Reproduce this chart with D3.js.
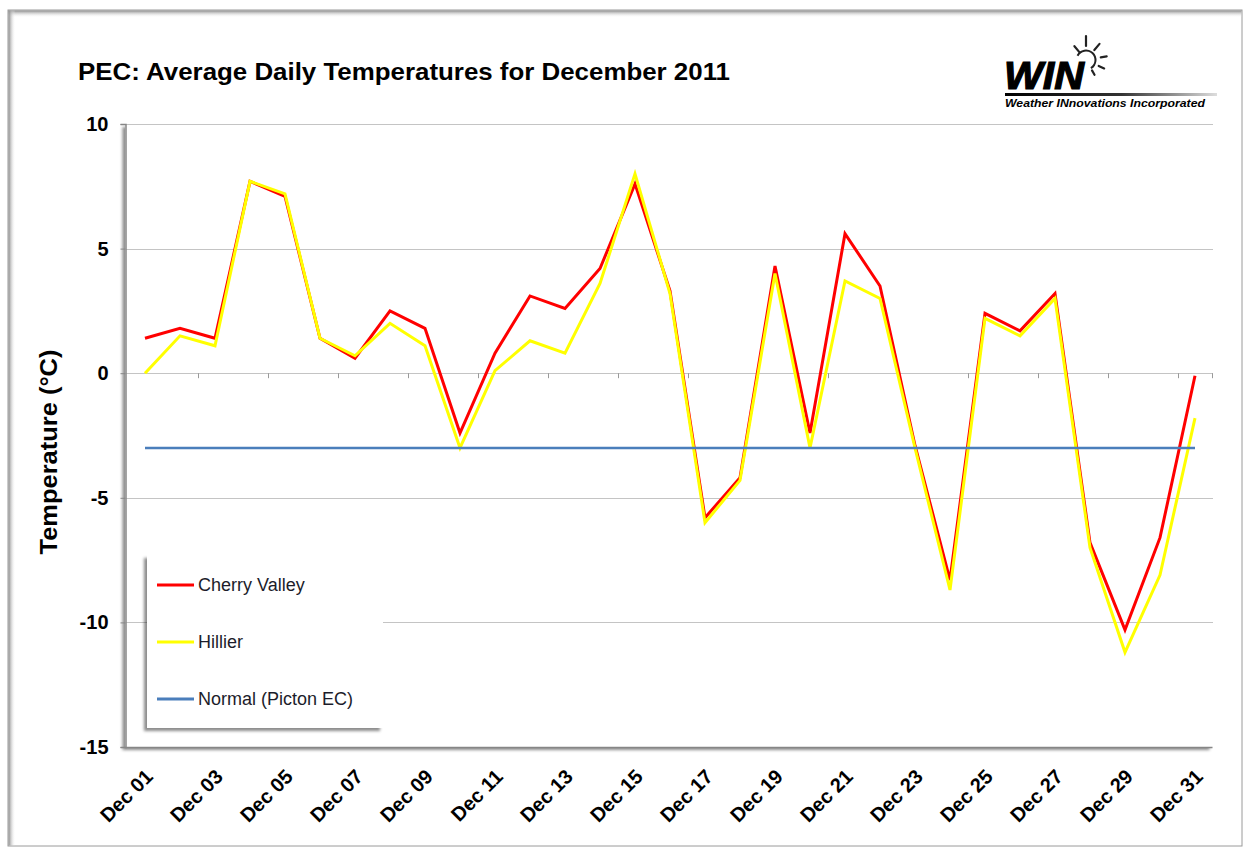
<!DOCTYPE html>
<html lang="en">
<head>
    <meta charset="UTF-8">
    <title>PEC December 2011</title>
    <script type="text/javascript" src="https://cdn.jsdelivr.net/npm/d3@7"></script>
    <style>
        body{
            margin: 0;
            background: #fff;
        }
        svg text{
            font-family: "Liberation Sans", Arial, sans-serif;
            fill: #000;
        }
        .grid line{
            stroke: #c4c4c4;
            shape-rendering: crispEdges;
        }
        .xlab{
            font-size: 20px;
            font-weight: bold;
        }
        .ylab{
            font-size: 20px;
            font-weight: bold;
        }
        .series{
            fill: none;
            stroke-linejoin: miter;
        }
        .leg text{
            font-size: 18px;
            fill: #1c1c2a;
        }
    </style>
</head>
<body>
<div id="chart"></div>
<script type="text/javascript">
    var days = ["Dec 01","Dec 02","Dec 03","Dec 04","Dec 05","Dec 06","Dec 07","Dec 08","Dec 09","Dec 10",
        "Dec 11","Dec 12","Dec 13","Dec 14","Dec 15","Dec 16","Dec 17","Dec 18","Dec 19","Dec 20",
        "Dec 21","Dec 22","Dec 23","Dec 24","Dec 25","Dec 26","Dec 27","Dec 28","Dec 29","Dec 30","Dec 31"];
    var cherryValley = [1.4,1.8,1.4,7.7,7.1,1.4,0.6,2.5,1.8,-2.4,
        0.8,3.1,2.6,4.2,7.6,3.3,-5.8,-4.2,4.3,-2.4,
        5.6,3.5,-2.9,-8.3,2.4,1.7,3.2,-6.8,-10.3,-6.6,-0.1];
    var hillier = [0.0,1.5,1.1,7.7,7.2,1.4,0.7,2.0,1.1,-3.0,
        0.1,1.3,0.8,3.6,8.0,3.2,-6.0,-4.3,4.0,-3.0,
        3.7,3.0,-3.0,-8.7,2.2,1.5,3.0,-7.0,-11.2,-8.1,-1.8];
    var normal = [-3,-3,-3,-3,-3,-3,-3,-3,-3,-3,
        -3,-3,-3,-3,-3,-3,-3,-3,-3,-3,
        -3,-3,-3,-3,-3,-3,-3,-3,-3,-3,-3];
    var yTicks = [10,5,0,-5,-10,-15];
    var xLabels = ["Dec 01","Dec 03","Dec 05","Dec 07","Dec 09","Dec 11","Dec 13","Dec 15",
        "Dec 17","Dec 19","Dec 21","Dec 23","Dec 25","Dec 27","Dec 29","Dec 31"];
    var seriesNames = ["Cherry Valley","Hillier","Normal (Picton EC)"];
    var seriesColors = ["#ff0000","#ffff00","#4a7ebb"];

    var W = 1248, H = 848;
    var pLeft = 127.5, pRight = 1212.5, pTop = 124, pBottom = 747;

    var svg = d3.select("#chart").append("svg")
        .attr("width", W).attr("height", H);

    var defs = svg.append("defs");
    var sh = defs.append("filter").attr("id","shadow")
        .attr("x","-5%").attr("y","-5%").attr("width","110%").attr("height","110%");
    sh.append("feDropShadow").attr("dx",-3).attr("dy",3).attr("stdDeviation",1.6)
        .attr("flood-color","#000").attr("flood-opacity",0.45);

    var gTop = defs.append("linearGradient").attr("id","gTop").attr("x1",0).attr("y1",0).attr("x2",0).attr("y2",1);
    gTop.append("stop").attr("offset","0").attr("stop-color","#8a8a8a");
    gTop.append("stop").attr("offset","1").attr("stop-color","#fff").attr("stop-opacity",0);
    var gLeft = defs.append("linearGradient").attr("id","gLeft").attr("x1",0).attr("y1",0).attr("x2",1).attr("y2",0);
    gLeft.append("stop").attr("offset","0").attr("stop-color","#8a8a8a");
    gLeft.append("stop").attr("offset","1").attr("stop-color","#fff").attr("stop-opacity",0);
    var gRule = defs.append("linearGradient").attr("id","gRule").attr("x1",0).attr("y1",0).attr("x2",1).attr("y2",0);
    gRule.append("stop").attr("offset","0").attr("stop-color","#000");
    gRule.append("stop").attr("offset","0.55").attr("stop-color","#333");
    gRule.append("stop").attr("offset","1").attr("stop-color","#ddd");

    // outer frame
    svg.append("rect").attr("x",8).attr("y",10).attr("width",1234).attr("height",836)
        .attr("fill","#fff").attr("stroke","#9a9a9a").attr("stroke-width",1);
    svg.append("rect").attr("x",8.5).attr("y",10.5).attr("width",1233).attr("height",7).attr("fill","url(#gTop)");
    svg.append("rect").attr("x",8.5).attr("y",10.5).attr("width",7).attr("height",835).attr("fill","url(#gLeft)");

    // title
    svg.append("text").attr("x",78).attr("y",80)
        .attr("textLength",652).attr("lengthAdjust","spacingAndGlyphs")
        .style("font-size","24px").style("font-weight","bold")
        .text("PEC: Average Daily Temperatures for December 2011");

    // logo
    var logo = svg.append("g").attr("class","logo");
    logo.append("text").attr("x",1004).attr("y",89)
        .attr("textLength",80).attr("lengthAdjust","spacingAndGlyphs")
        .style("font-size","38px").style("font-weight","900").style("font-style","italic")
        .style("stroke","#000").style("stroke-width",1.2)
        .text("WIN");
    logo.append("rect").attr("x",1005).attr("y",93).attr("width",212).attr("height",3).attr("fill","url(#gRule)");
    logo.append("text").attr("x",1005).attr("y",107)
        .attr("textLength",200).attr("lengthAdjust","spacingAndGlyphs")
        .style("font-size","11px").style("font-weight","bold").style("font-style","italic")
        .text("Weather INnovations Incorporated");
    var sun = logo.append("g").attr("transform","translate(1086,60)");
    sun.append("path")
        .attr("d", d3.arc()({innerRadius:8.5, outerRadius:10.5, startAngle:-1.1, endAngle:2.6}))
        .attr("fill","#222");
    var rays = [[-40,10,18],[0,14,24],[40,13,21],[80,15,21],[115,14,20],[150,12,17]];
    sun.selectAll("line.ray").data(rays).enter().append("line")
        .attr("class","ray")
        .attr("x1",function(d){return Math.sin(d[0]*Math.PI/180)*d[1];})
        .attr("y1",function(d){return -Math.cos(d[0]*Math.PI/180)*d[1];})
        .attr("x2",function(d){return Math.sin(d[0]*Math.PI/180)*d[2];})
        .attr("y2",function(d){return -Math.cos(d[0]*Math.PI/180)*d[2];})
        .attr("stroke","#222").attr("stroke-width",2.2).attr("stroke-linecap","round");

    // scales
    var x = d3.scaleBand().domain(days).range([pLeft, pRight]);
    var y = d3.scaleLinear().domain([-15, 10]).range([pBottom, pTop]);
    var cx = function(d){ return x(d) + x.bandwidth()/2; };

    // plot area
    svg.append("rect").attr("x",pLeft-2).attr("y",pTop).attr("width",pRight-pLeft+2).attr("height",pBottom-pTop)
        .attr("fill","#fff").attr("filter","url(#shadow)");

    var grid = svg.append("g").attr("class","grid");
    grid.selectAll("line").data(yTicks.slice(0,5)).enter().append("line")
        .attr("x1",pLeft-2).attr("x2",pRight)
        .attr("y1",function(d){return Math.round(y(d))+0.5;})
        .attr("y2",function(d){return Math.round(y(d))+0.5;});

    // y axis (plain hyphen for negatives, like the original)
    var yAxis = d3.axisLeft(y).tickValues(yTicks).tickSize(5).tickPadding(12)
        .tickFormat(function(d){ return String(d); });
    var gy = svg.append("g").attr("transform","translate(" + (pLeft-2) + ",0)").call(yAxis);
    gy.select(".domain").attr("stroke","#868686").attr("stroke-width",1.5);
    gy.selectAll(".tick line").attr("stroke","#868686");
    gy.selectAll(".tick text").attr("class","ylab").attr("fill","#000");

    // x ticks on the zero line
    var tickDays = days.filter(function(d,i){ return i % 2 == 0 && i > 0; });
    svg.append("g").selectAll("line").data(tickDays).enter().append("line")
        .attr("x1",function(d){return Math.round(x(d))+0.5;})
        .attr("x2",function(d){return Math.round(x(d))+0.5;})
        .attr("y1",y(0)).attr("y2",y(0)+5)
        .attr("stroke","#9a9a9a");
    svg.append("line").attr("x1",pRight).attr("x2",pRight).attr("y1",y(0)).attr("y2",y(0)+5).attr("stroke","#9a9a9a");

    // bottom edge of the plot
    svg.append("line").attr("x1",pLeft-2).attr("x2",pRight).attr("y1",pBottom+0.5).attr("y2",pBottom+0.5)
        .attr("stroke","#868686").attr("stroke-width",1.5);

    // x labels
    svg.append("g").selectAll("text").data(xLabels).enter().append("text")
        .attr("class","xlab")
        .attr("text-anchor","end")
        .attr("transform",function(d){ return "translate(" + (cx(d)+9) + ",778) rotate(-45)"; })
        .text(function(d){ return d; });

    // y axis title
    svg.append("text")
        .attr("transform","translate(57,452) rotate(-90)")
        .attr("text-anchor","middle")
        .attr("textLength",205).attr("lengthAdjust","spacingAndGlyphs")
        .style("font-size","24px").style("font-weight","bold")
        .text("Temperature (\u00b0C)");

    // series
    var allSeries = [cherryValley, hillier, normal];
    var line = d3.line()
        .x(function(d,i){ return cx(days[i]); })
        .y(function(d){ return y(d); });
    svg.append("g").selectAll("path").data(allSeries).enter().append("path")
        .attr("class","series")
        .attr("d", line)
        .attr("stroke",function(d,i){ return seriesColors[i]; })
        .attr("stroke-width",function(d,i){ return i == 2 ? 2.5 : 3; });

    // legend
    var leg = svg.append("g").attr("class","leg");
    leg.append("rect").attr("x",147).attr("y",555).attr("width",236).attr("height",173)
        .attr("fill","#fff").attr("filter","url(#shadow)");
    var item = leg.selectAll("g.item").data(seriesNames).enter().append("g")
        .attr("class","item")
        .attr("transform",function(d,i){ return "translate(157," + (585 + i*57) + ")"; });
    item.append("line").attr("x1",0).attr("x2",37).attr("y1",0).attr("y2",0)
        .attr("stroke",function(d,i){ return seriesColors[i]; })
        .attr("stroke-width",3);
    item.append("text").attr("x",41).attr("dy","0.35em").text(function(d){ return d; });
</script>
</body>
</html>
